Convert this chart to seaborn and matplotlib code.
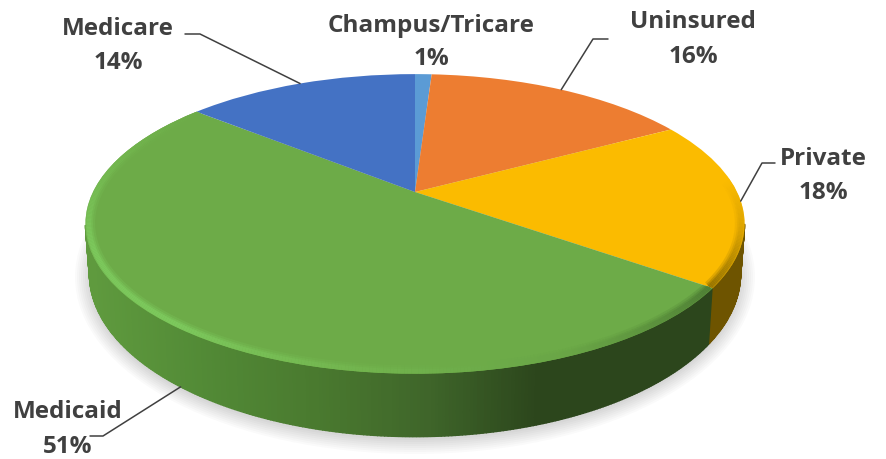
import numpy as np
import seaborn as sns
import matplotlib.pyplot as plt
from matplotlib.patches import Ellipse
from matplotlib.transforms import Transform
from matplotlib.collections import LineCollection

labels = ["Champus/Tricare", "Uninsured", "Private", "Medicaid", "Medicare"]
values = [1, 16, 18, 51, 14]
colors = ["#5b9bd5", "#ed7d31", "#fbbb00", "#6dab48", "#4472c4"]
wall_private = "#6e5400"
wall_green_stops = ["#5f9a3e", "#528a36", "#4a7a2f", "#3f662a", "#2c461c", "#2c461c"]
rim_green_stops = ["#4f8035", "#69a546", "#72b44e", "#7cc85c", "#7cc85c", "#74b850", "#6dab48"]
rim_gold_stops = ["#fbbb00", "#d9a200", "#9a7600"]

# label centre positions in the picture
name_pos = [(431, 26), (693, 22), (823, 159), (68, 412), (118, 29)]
pct_pos = [(431, 59), (693, 57), (823, 193), (68, 447), (118, 63)]
# elbow of each leader line: (text end, bend), Champus has none
elbows = [None, [(608, 40), (593, 40)], [(775, 164), (762, 164)],
          [(90, 437), (103, 437)], [(185, 35), (200, 35)]]

CX, CY = 415, 193
K, A, B = 0.213, 143, 322
TOP_CY, TOP_RY, TOP_RX = 225, 150, 330
BOT_CY, BOT_RY, BOT_RX = 275, 163, 326


def project(u, v):
    # tilted disc: the pie centre is not the ellipse centre
    d = 1 + K * np.asarray(v)
    return CX + B * np.asarray(u) / d, CY - A * np.asarray(v) / d


def rim(deg, r=1.0):
    # deg runs clockwise from 12 o'clock
    t = np.radians(deg)
    return project(r * np.sin(t), r * np.cos(t))


def floor(deg):
    x, y = rim(deg)
    return CX + (x - CX) * BOT_RX / TOP_RX, BOT_CY + (y - TOP_CY) * BOT_RY / TOP_RY


class Tilt(Transform):
    input_dims = 2
    output_dims = 2

    def transform_non_affine(self, values):
        x, y = project(values[:, 0], values[:, 1])
        return np.column_stack([x, y])


def bevel(ax, wedge, a0, a1, stops):
    # light band just inside the rim of one slice
    deg = np.arange(a0, a1 + 0.5, 0.5)
    px, py = rim(deg, 0.99)
    pts = np.column_stack([px, py])
    segs = np.stack([pts[:-1], pts[1:]], axis=1)
    ramp = sns.blend_palette(stops, n_colors=len(segs))
    for lw, alpha in [(9, 0.3), (6, 0.5), (3.5, 1)]:
        lc = LineCollection(segs, colors=ramp, linewidths=lw, alpha=alpha, zorder=6)
        ax.add_collection(lc)
        lc.set_clip_path(wedge)


sns.set_theme(style="white")
plt.rcParams["font.family"] = ["Open Sans", "DejaVu Sans"]

fig = plt.figure(figsize=(8.86, 4.6), dpi=100)
ax = fig.add_axes([0, 0, 1, 1])
wedges, _ = ax.pie(values, colors=colors, startangle=90, counterclock=False,
                   wedgeprops=dict(linewidth=0, zorder=5))
ax.set_aspect("auto")
ax.set_xlim(0, 886)
ax.set_ylim(460, 0)
ax.axis("off")

for w in wedges:
    w.set_transform(Tilt() + ax.transData)

# angle limits of each slice, clockwise from the top
ends = np.cumsum(values) * 3.6
starts = ends - np.array(values) * 3.6
mids = (starts + ends) / 2

# soft shadow under the base
for s in range(0, 16, 2):
    ax.add_patch(Ellipse((415, BOT_CY + 3), 2 * (BOT_RX + s), 2 * (BOT_RY + s),
                         color="black", alpha=0.02, lw=0, zorder=1))

# side wall, visible between the two extremes of the ellipse
side = np.degrees(np.arccos(-K))
steps = np.arange(side, 360 - side, 0.5)
green_ramp = sns.blend_palette(wall_green_stops, n_colors=300)
for a, b in zip(steps[:-1], steps[1:]):
    xa, ya = rim(a)
    xb, yb = rim(b)
    fa, ga = floor(a)
    fb, gb = floor(b)
    if a < ends[2]:
        c = wall_private
    else:
        # shade runs from the left edge to the dark right side
        c = green_ramp[int(np.clip((xa - 90) / 560 * 299, 0, 299))]
    ax.fill([xa, xb, fb, fa], [ya, yb, gb, ga], color=c, lw=1, zorder=3)

bevel(ax, wedges[2], 85, ends[2], rim_gold_stops)
bevel(ax, wedges[3], starts[3], ends[3], rim_green_stops)

# leader lines
for i, el in enumerate(elbows):
    if el is None:
        continue
    end = floor(mids[i]) if labels[i] == "Medicaid" else rim(mids[i])
    xs = [el[0][0], el[1][0], float(end[0])]
    ys = [el[0][1], el[1][1], float(end[1])]
    ax.plot(xs, ys, color="#404040", lw=1.1, zorder=7)

for lab, val, np_, pp in zip(labels, values, name_pos, pct_pos):
    ax.text(np_[0], np_[1], lab, ha="center", va="center", fontsize=17.5,
            fontweight="bold", color="#404040", zorder=8)
    ax.text(pp[0], pp[1], f"{val}%", ha="center", va="center", fontsize=17.5,
            fontweight="bold", color="#404040", zorder=8)

plt.savefig("out.png", dpi=100)
plt.close()
